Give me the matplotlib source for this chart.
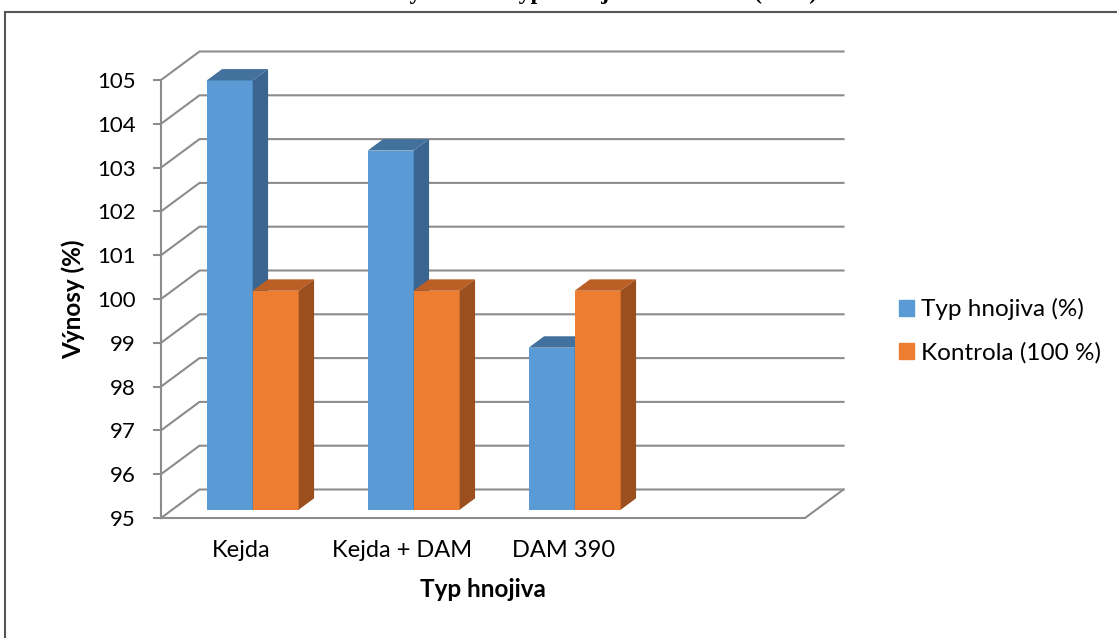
import matplotlib.pyplot as plt
from matplotlib.patches import Polygon, Patch, Rectangle

# Data
categories = ["Kejda", "Kejda + DAM", "DAM 390"]
typ_hnojiva = [104.8, 103.2, 98.7]
kontrola = [100.0, 100.0, 100.0]
series_names = ["Typ hnojiva (%)", "Kontrola (100 %)"]
y_ticks = list(range(95, 106))

W, H = 1117, 638
fig = plt.figure(figsize=(W / 100, H / 100), dpi=100)
plt.rcParams['font.family'] = ['Lato', 'DejaVu Sans']

# front plane of the "3D" box
ax = fig.add_axes([161 / W, 1 - 518 / H, (805 - 161) / W, (518 - 80) / H])
ax.set_xlim(-0.5, 3.5)
ax.set_ylim(95, 105)

# depth of the box in data units (oblique projection)
DX = 38.5 / 161
DY = 28.5 / 43.8
grid_col = "#8C8C8C"

for v in y_ticks:
    ax.plot([-0.5, -0.5 + DX, 3.5 + DX], [v, v + DY, v + DY],
            color=grid_col, lw=1.5, clip_on=False, zorder=1)
# floor
ax.plot([-0.5, 3.5, 3.5 + DX], [95, 95, 95 + DY],
        color=grid_col, lw=1.5, clip_on=False, zorder=1)

# bars
f, g = 0.29, 0.40      # bar front depth and bar depth (fraction of box)
bw = 46 / 161          # width of one bar
colors = {
    0: ("#5B9BD5", "#41719C", "#3A6590"),
    1: ("#ED7D31", "#BB5F24", "#9B4F1E"),
}


def bar3d(x0, val, cols):
    front, top, side = cols
    x1 = x0 + bw
    bx, by = f * DX, f * DY
    gx, gy = g * DX, g * DY
    b = 95 + by
    ax.bar(x0 + bx, val - 95, width=bw, bottom=b, align='edge',
           color=front, zorder=3, clip_on=False)
    ax.add_patch(Polygon([(x0 + bx, val + by), (x1 + bx, val + by),
                          (x1 + bx + gx, val + by + gy), (x0 + bx + gx, val + by + gy)],
                         closed=True, color=top, zorder=3, clip_on=False, lw=0))
    ax.add_patch(Polygon([(x1 + bx, b), (x1 + bx, val + by),
                          (x1 + bx + gx, val + by + gy), (x1 + bx + gx, b + gy)],
                         closed=True, color=side, zorder=3, clip_on=False, lw=0))


for i in range(len(categories)):
    bar3d(i - bw, typ_hnojiva[i], colors[0])
    bar3d(i, kontrola[i], colors[1])

# axes styling
for s in ["top", "right", "bottom"]:
    ax.spines[s].set_visible(False)
ax.spines["left"].set_color(grid_col)
ax.spines["left"].set_linewidth(1.5)
ax.set_yticks(y_ticks)
ax.tick_params(axis="y", length=6, width=1.5, color=grid_col, labelsize=16, pad=12)
ax.set_xticks(range(len(categories)))
ax.set_xticklabels(categories)
ax.tick_params(axis="x", length=0, labelsize=17, pad=16)
ax.set_ylabel("Výnosy (%)", fontsize=17.5, fontweight="bold", labelpad=9)
ax.set_xlabel("Typ hnojiva", fontsize=17.5, fontweight="bold", labelpad=12)
ax.set_facecolor("none")

handles = [Patch(color=colors[0][0]), Patch(color=colors[1][0])]
fig.legend(handles, series_names, loc="center left",
           bbox_to_anchor=(899 / W, 1 - 331 / H), frameon=False,
           fontsize=17.5, handlelength=0.6, handleheight=0.6,
           handletextpad=0.3, labelspacing=0.9, borderpad=0, borderaxespad=0)

# outer frame and cut-off title
fig.patches.append(Rectangle((5 / W, -0.1), 1.2, 1 - 12 / H + 0.1, transform=fig.transFigure,
                             fill=False, ec="#555555", lw=1.5))
fig.text(0.5, 1 + 1 / H, "Srovnání výnosů dle typů hnojiv s kontrolou (2014)",
         ha="center", va="baseline", fontsize=17, fontweight="bold",
         family=["Liberation Serif", "DejaVu Serif"])

plt.savefig("out.png", dpi=100)
